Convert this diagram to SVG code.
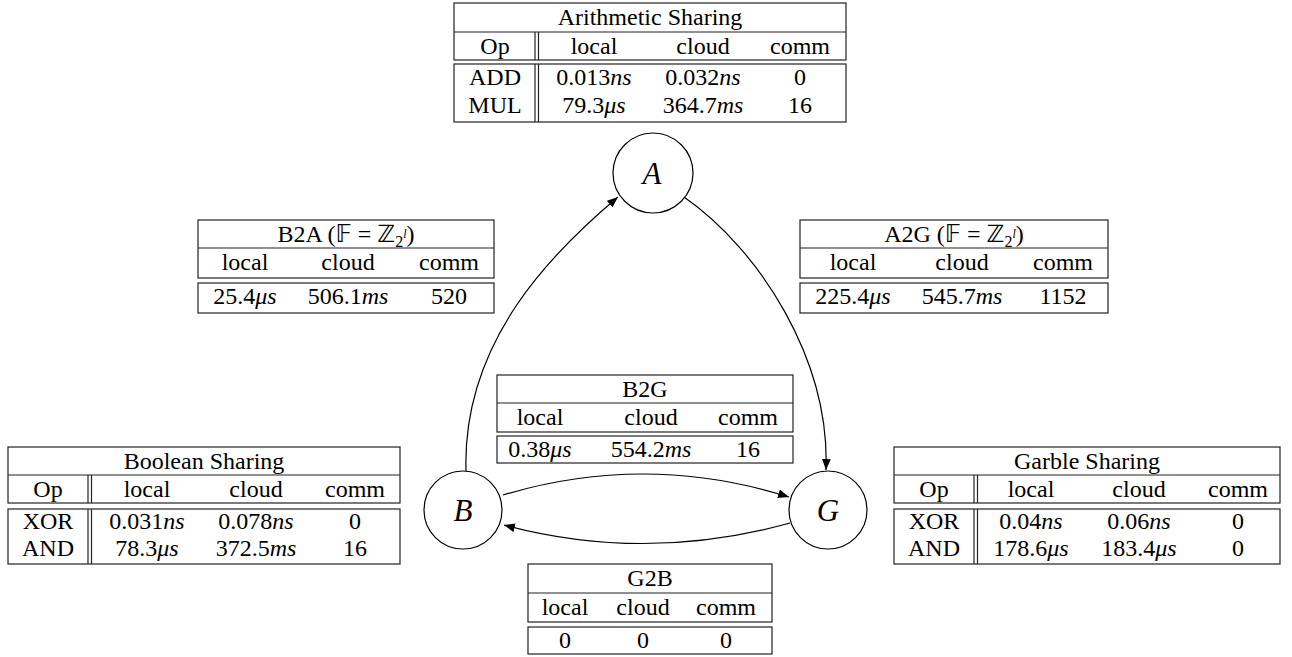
<svg xmlns="http://www.w3.org/2000/svg" width="1292" height="657" viewBox="0 0 1292 657" font-family="'Liberation Serif', 'DejaVu Serif', serif">
<style>
text{font-family:'Liberation Serif','DejaVu Serif',serif}
.t{font-size:24px;fill:#000;text-anchor:middle}
.i{font-style:italic}
.box{fill:none;stroke:#222;stroke-width:1.2}
.ln{stroke:#222;stroke-width:1.2}
.edge{fill:none;stroke:#000;stroke-width:1.2;marker-end:url(#arr)}
.nc{fill:#fff;stroke:#000;stroke-width:1.2}
.nl{font-size:31px;font-style:italic;fill:#000;text-anchor:middle}
tspan.m{font-family:'DejaVu Sans','Liberation Serif',serif;font-style:normal}
</style>
<defs>
<marker id="arr" viewBox="0 0 10 8" refX="10" refY="4" markerWidth="11" markerHeight="9" markerUnits="userSpaceOnUse" orient="auto">
<path d="M0,0 L10,4 L0,8 Z" fill="#000"/>
</marker>
</defs>
<rect width="1292" height="657" fill="#fff"/>

<g id="connectors">
<path class="edge" d="M466,471 C462,340 555,250 618,197"/>
<path class="edge" d="M684,197 C760,250 830,360 826,470"/>
<path class="edge" d="M503,495 Q646,452 789,497"/>
<path class="edge" d="M790,523 Q646,563 504,525"/>
</g>

<g id="nodeA"><circle class="nc" cx="653" cy="173" r="40"/><text class="nl" x="652" y="184">A</text></g>
<g id="nodeB"><circle class="nc" cx="463" cy="510" r="39"/><text class="nl" x="463" y="521">B</text></g>
<g id="nodeG"><circle class="nc" cx="828" cy="510" r="39"/><text class="nl" x="828" y="521">G</text></g>

<g id="arith">
<rect class="box" x="454" y="3" width="392" height="57"/>
<line class="ln" x1="454" y1="32" x2="846" y2="32"/>
<rect class="box" x="454" y="64" width="392" height="58"/>
<line class="ln" x1="535" y1="32" x2="535" y2="60"/><line class="ln" x1="538.5" y1="32" x2="538.5" y2="60"/>
<line class="ln" x1="535" y1="64" x2="535" y2="122"/><line class="ln" x1="538.5" y1="64" x2="538.5" y2="122"/>
<text class="t" x="650" y="25">Arithmetic Sharing</text>
<text class="t" x="495" y="54">Op</text><text class="t" x="594" y="54">local</text><text class="t" x="703" y="54">cloud</text><text class="t" x="800" y="54">comm</text>
<text class="t" x="495" y="85">ADD</text><text class="t" x="594" y="85">0.013<tspan class="i">ns</tspan></text><text class="t" x="703" y="85">0.032<tspan class="i">ns</tspan></text><text class="t" x="800" y="85">0</text>
<text class="t" x="495" y="113">MUL</text><text class="t" x="594" y="113">79.3<tspan class="i">μs</tspan></text><text class="t" x="703" y="113">364.7<tspan class="i">ms</tspan></text><text class="t" x="800" y="113">16</text>
</g>

<g id="b2a">
<rect class="box" x="198" y="220" width="296" height="58"/>
<line class="ln" x1="198" y1="248" x2="494" y2="248"/>
<rect class="box" x="198" y="283" width="296" height="30"/>
<text class="t" x="346" y="242">B2A (<tspan class="m">𝔽</tspan> = <tspan class="m">ℤ</tspan><tspan font-size="16" dy="5">2</tspan><tspan font-size="12" class="i" dy="-9">l</tspan><tspan dy="4">)</tspan></text>
<text class="t" x="245" y="270">local</text><text class="t" x="348" y="270">cloud</text><text class="t" x="449" y="270">comm</text>
<text class="t" x="245" y="304">25.4<tspan class="i">μs</tspan></text><text class="t" x="348" y="304">506.1<tspan class="i">ms</tspan></text><text class="t" x="449" y="304">520</text>
</g>

<g id="a2g">
<rect class="box" x="800" y="220" width="308" height="58"/>
<line class="ln" x1="800" y1="248" x2="1108" y2="248"/>
<rect class="box" x="800" y="283" width="308" height="30"/>
<text class="t" x="954" y="242">A2G (<tspan class="m">𝔽</tspan> = <tspan class="m">ℤ</tspan><tspan font-size="16" dy="5">2</tspan><tspan font-size="12" class="i" dy="-9">l</tspan><tspan dy="4">)</tspan></text>
<text class="t" x="853" y="270">local</text><text class="t" x="962" y="270">cloud</text><text class="t" x="1063" y="270">comm</text>
<text class="t" x="853" y="304">225.4<tspan class="i">μs</tspan></text><text class="t" x="962" y="304">545.7<tspan class="i">ms</tspan></text><text class="t" x="1063" y="304">1152</text>
</g>

<g id="b2g">
<rect class="box" x="497" y="375" width="296" height="57"/>
<line class="ln" x1="497" y1="403" x2="793" y2="403"/>
<rect class="box" x="497" y="436" width="296" height="27"/>
<text class="t" x="645" y="397">B2G</text>
<text class="t" x="540" y="425">local</text><text class="t" x="651" y="425">cloud</text><text class="t" x="748" y="425">comm</text>
<text class="t" x="540" y="457">0.38<tspan class="i">μs</tspan></text><text class="t" x="651" y="457">554.2<tspan class="i">ms</tspan></text><text class="t" x="748" y="457">16</text>
</g>

<g id="bool">
<rect class="box" x="8" y="447" width="392" height="56"/>
<line class="ln" x1="8" y1="475" x2="400" y2="475"/>
<rect class="box" x="8" y="509" width="392" height="55"/>
<line class="ln" x1="88" y1="475" x2="88" y2="503"/><line class="ln" x1="91.5" y1="475" x2="91.5" y2="503"/>
<line class="ln" x1="88" y1="509" x2="88" y2="564"/><line class="ln" x1="91.5" y1="509" x2="91.5" y2="564"/>
<text class="t" x="204" y="469">Boolean Sharing</text>
<text class="t" x="48" y="497">Op</text><text class="t" x="147" y="497">local</text><text class="t" x="256" y="497">cloud</text><text class="t" x="355" y="497">comm</text>
<text class="t" x="48" y="529">XOR</text><text class="t" x="147" y="529">0.031<tspan class="i">ns</tspan></text><text class="t" x="256" y="529">0.078<tspan class="i">ns</tspan></text><text class="t" x="355" y="529">0</text>
<text class="t" x="48" y="556">AND</text><text class="t" x="147" y="556">78.3<tspan class="i">μs</tspan></text><text class="t" x="256" y="556">372.5<tspan class="i">ms</tspan></text><text class="t" x="355" y="556">16</text>
</g>

<g id="garble">
<rect class="box" x="894" y="447" width="386" height="56"/>
<line class="ln" x1="894" y1="475" x2="1280" y2="475"/>
<rect class="box" x="894" y="509" width="386" height="55"/>
<line class="ln" x1="974" y1="475" x2="974" y2="503"/><line class="ln" x1="977.5" y1="475" x2="977.5" y2="503"/>
<line class="ln" x1="974" y1="509" x2="974" y2="564"/><line class="ln" x1="977.5" y1="509" x2="977.5" y2="564"/>
<text class="t" x="1087" y="469">Garble Sharing</text>
<text class="t" x="934" y="497">Op</text><text class="t" x="1031" y="497">local</text><text class="t" x="1139" y="497">cloud</text><text class="t" x="1238" y="497">comm</text>
<text class="t" x="934" y="529">XOR</text><text class="t" x="1031" y="529">0.04<tspan class="i">ns</tspan></text><text class="t" x="1139" y="529">0.06<tspan class="i">ns</tspan></text><text class="t" x="1238" y="529">0</text>
<text class="t" x="934" y="556">AND</text><text class="t" x="1031" y="556">178.6<tspan class="i">μs</tspan></text><text class="t" x="1139" y="556">183.4<tspan class="i">μs</tspan></text><text class="t" x="1238" y="556">0</text>
</g>

<g id="g2b">
<rect class="box" x="528" y="564" width="244" height="58"/>
<line class="ln" x1="528" y1="593" x2="772" y2="593"/>
<rect class="box" x="528" y="627" width="244" height="27"/>
<text class="t" x="650" y="586">G2B</text>
<text class="t" x="565" y="615">local</text><text class="t" x="643" y="615">cloud</text><text class="t" x="726" y="615">comm</text>
<text class="t" x="565" y="648">0</text><text class="t" x="643" y="648">0</text><text class="t" x="726" y="648">0</text>
</g>
</svg>
